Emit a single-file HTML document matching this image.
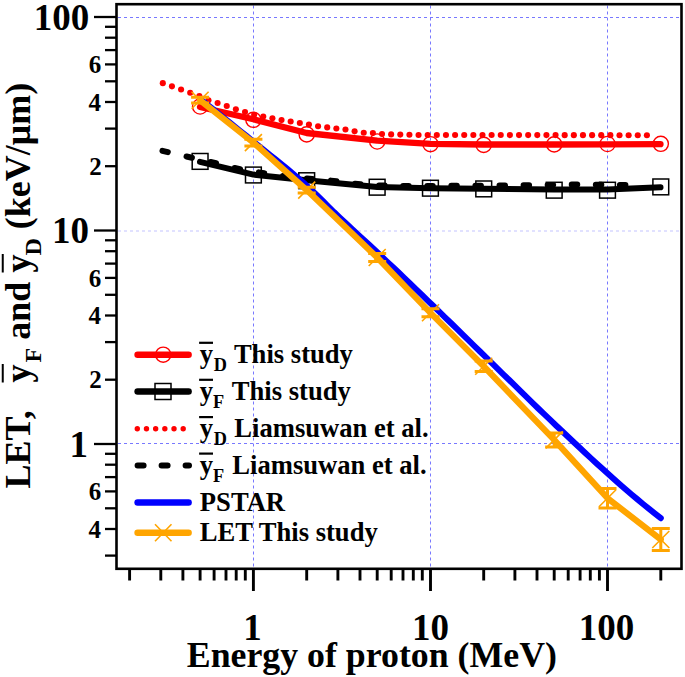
<!DOCTYPE html>
<html><head><meta charset="utf-8"><style>
html,body{margin:0;padding:0;background:#fff;}
svg{display:block;}
text{font-family:"Liberation Serif",serif;font-weight:bold;fill:#000;}
</style></head><body>
<svg width="685" height="677" viewBox="0 0 685 677">
<rect width="685" height="677" fill="#fff"/>
<line x1="253.5" y1="5.5" x2="253.5" y2="567" stroke="#7878ff" stroke-width="1" stroke-dasharray="3 3"/>
<line x1="430.5" y1="5.5" x2="430.5" y2="567" stroke="#7878ff" stroke-width="1" stroke-dasharray="3 3"/>
<line x1="607.5" y1="5.5" x2="607.5" y2="567" stroke="#7878ff" stroke-width="1" stroke-dasharray="3 3"/>
<line x1="118" y1="17.5" x2="680" y2="17.5" stroke="#7878ff" stroke-opacity="1" stroke-width="1" stroke-dasharray="3 3"/>
<line x1="118" y1="231" x2="680" y2="231" stroke="#7878ff" stroke-opacity="0.45" stroke-width="1" stroke-dasharray="3 3"/>
<line x1="118" y1="443.5" x2="680" y2="443.5" stroke="#7878ff" stroke-opacity="1" stroke-width="1" stroke-dasharray="3 3"/>
<circle cx="162.80" cy="83.17" r="3.05" fill="#f00"/>
<circle cx="171.93" cy="86.34" r="3.05" fill="#f00"/>
<circle cx="181.07" cy="89.52" r="3.05" fill="#f00"/>
<circle cx="190.20" cy="92.82" r="3.05" fill="#f00"/>
<circle cx="199.34" cy="96.15" r="3.05" fill="#f00"/>
<circle cx="208.47" cy="100.32" r="3.05" fill="#f00"/>
<circle cx="217.60" cy="103.07" r="3.05" fill="#f00"/>
<circle cx="226.74" cy="105.98" r="3.05" fill="#f00"/>
<circle cx="235.87" cy="109.30" r="3.05" fill="#f00"/>
<circle cx="245.01" cy="111.96" r="3.05" fill="#f00"/>
<circle cx="254.14" cy="114.73" r="3.05" fill="#f00"/>
<circle cx="263.27" cy="116.53" r="3.05" fill="#f00"/>
<circle cx="272.41" cy="118.34" r="3.05" fill="#f00"/>
<circle cx="281.54" cy="120.09" r="3.05" fill="#f00"/>
<circle cx="290.68" cy="121.53" r="3.05" fill="#f00"/>
<circle cx="299.81" cy="122.99" r="3.05" fill="#f00"/>
<circle cx="308.94" cy="124.49" r="3.05" fill="#f00"/>
<circle cx="318.08" cy="126.30" r="3.05" fill="#f00"/>
<circle cx="327.21" cy="127.40" r="3.05" fill="#f00"/>
<circle cx="336.35" cy="128.49" r="3.05" fill="#f00"/>
<circle cx="345.48" cy="129.57" r="3.05" fill="#f00"/>
<circle cx="354.61" cy="131.34" r="3.05" fill="#f00"/>
<circle cx="363.75" cy="132.71" r="3.05" fill="#f00"/>
<circle cx="372.88" cy="133.11" r="3.05" fill="#f00"/>
<circle cx="382.02" cy="134.00" r="3.05" fill="#f00"/>
<circle cx="391.15" cy="134.40" r="3.05" fill="#f00"/>
<circle cx="400.28" cy="134.62" r="3.05" fill="#f00"/>
<circle cx="409.42" cy="134.79" r="3.05" fill="#f00"/>
<circle cx="418.55" cy="134.97" r="3.05" fill="#f00"/>
<circle cx="427.68" cy="135.01" r="3.05" fill="#f00"/>
<circle cx="436.82" cy="135.01" r="3.05" fill="#f00"/>
<circle cx="445.95" cy="135.02" r="3.05" fill="#f00"/>
<circle cx="455.09" cy="135.03" r="3.05" fill="#f00"/>
<circle cx="464.22" cy="135.04" r="3.05" fill="#f00"/>
<circle cx="473.35" cy="135.05" r="3.05" fill="#f00"/>
<circle cx="482.49" cy="135.06" r="3.05" fill="#f00"/>
<circle cx="491.62" cy="135.06" r="3.05" fill="#f00"/>
<circle cx="500.76" cy="135.07" r="3.05" fill="#f00"/>
<circle cx="509.89" cy="135.08" r="3.05" fill="#f00"/>
<circle cx="519.02" cy="135.09" r="3.05" fill="#f00"/>
<circle cx="528.16" cy="135.10" r="3.05" fill="#f00"/>
<circle cx="537.29" cy="135.10" r="3.05" fill="#f00"/>
<circle cx="546.43" cy="135.11" r="3.05" fill="#f00"/>
<circle cx="555.56" cy="135.12" r="3.05" fill="#f00"/>
<circle cx="564.69" cy="135.13" r="3.05" fill="#f00"/>
<circle cx="573.83" cy="135.14" r="3.05" fill="#f00"/>
<circle cx="582.96" cy="135.14" r="3.05" fill="#f00"/>
<circle cx="592.10" cy="135.15" r="3.05" fill="#f00"/>
<circle cx="601.23" cy="135.16" r="3.05" fill="#f00"/>
<circle cx="610.36" cy="135.17" r="3.05" fill="#f00"/>
<circle cx="619.50" cy="135.18" r="3.05" fill="#f00"/>
<circle cx="628.63" cy="135.18" r="3.05" fill="#f00"/>
<circle cx="637.77" cy="135.19" r="3.05" fill="#f00"/>
<circle cx="646.90" cy="135.20" r="3.05" fill="#f00"/>
<line x1="162.47" y1="150.82" x2="167.81" y2="152.10" stroke="#000" stroke-width="6" stroke-linecap="round"/>
<line x1="186.54" y1="156.51" x2="191.90" y2="157.75" stroke="#000" stroke-width="6" stroke-linecap="round"/>
<line x1="210.62" y1="161.97" x2="215.98" y2="163.23" stroke="#000" stroke-width="6" stroke-linecap="round"/>
<line x1="234.69" y1="167.93" x2="240.07" y2="169.07" stroke="#000" stroke-width="6" stroke-linecap="round"/>
<line x1="258.75" y1="172.35" x2="264.17" y2="173.23" stroke="#000" stroke-width="6" stroke-linecap="round"/>
<line x1="282.81" y1="175.95" x2="288.27" y2="176.63" stroke="#000" stroke-width="6" stroke-linecap="round"/>
<line x1="306.88" y1="178.54" x2="312.36" y2="179.06" stroke="#000" stroke-width="6" stroke-linecap="round"/>
<line x1="330.97" y1="180.61" x2="336.43" y2="181.19" stroke="#000" stroke-width="6" stroke-linecap="round"/>
<line x1="355.04" y1="183.74" x2="360.52" y2="184.26" stroke="#000" stroke-width="6" stroke-linecap="round"/>
<line x1="379.11" y1="185.38" x2="384.61" y2="185.61" stroke="#000" stroke-width="6" stroke-linecap="round"/>
<line x1="403.19" y1="185.97" x2="408.69" y2="186.03" stroke="#000" stroke-width="6" stroke-linecap="round"/>
<line x1="427.27" y1="186.01" x2="432.77" y2="185.99" stroke="#000" stroke-width="6" stroke-linecap="round"/>
<line x1="451.35" y1="185.87" x2="456.85" y2="185.84" stroke="#000" stroke-width="6" stroke-linecap="round"/>
<line x1="475.43" y1="185.73" x2="480.93" y2="185.69" stroke="#000" stroke-width="6" stroke-linecap="round"/>
<line x1="499.51" y1="185.50" x2="505.01" y2="185.45" stroke="#000" stroke-width="6" stroke-linecap="round"/>
<line x1="523.59" y1="185.26" x2="529.09" y2="185.21" stroke="#000" stroke-width="6" stroke-linecap="round"/>
<line x1="547.67" y1="184.95" x2="553.17" y2="184.88" stroke="#000" stroke-width="6" stroke-linecap="round"/>
<line x1="571.75" y1="184.62" x2="577.25" y2="184.54" stroke="#000" stroke-width="6" stroke-linecap="round"/>
<line x1="595.83" y1="184.68" x2="601.33" y2="184.74" stroke="#000" stroke-width="6" stroke-linecap="round"/>
<line x1="619.91" y1="184.97" x2="625.41" y2="185.01" stroke="#000" stroke-width="6" stroke-linecap="round"/>
<polyline points="200.0,107.0 253.4,119.3 306.6,133.0 377.2,140.6 430.5,143.9 483.8,144.5 554.2,144.5 607.5,144.4 660.5,144.2" fill="none" stroke="#ff0000" stroke-width="6.3" stroke-linecap="round" stroke-linejoin="round"/>
<polyline points="200.0,161.8 253.4,174.6 306.6,180.2 377.2,187.0 430.5,188.3 483.8,188.7 554.2,189.4 607.5,189.5 660.5,187.3" fill="none" stroke="#000" stroke-width="6" stroke-linecap="round" stroke-linejoin="round"/>
<circle cx="200.1" cy="106.5" r="7.6" fill="none" stroke="#ff0000" stroke-width="1.4"/>
<circle cx="253.4" cy="119.8" r="7.6" fill="none" stroke="#ff0000" stroke-width="1.4"/>
<circle cx="306.7" cy="134.4" r="7.6" fill="none" stroke="#ff0000" stroke-width="1.4"/>
<circle cx="377.2" cy="141.5" r="7.6" fill="none" stroke="#ff0000" stroke-width="1.4"/>
<circle cx="430.5" cy="144.2" r="7.6" fill="none" stroke="#ff0000" stroke-width="1.4"/>
<circle cx="483.7" cy="144.9" r="7.6" fill="none" stroke="#ff0000" stroke-width="1.4"/>
<circle cx="554.2" cy="144.4" r="7.6" fill="none" stroke="#ff0000" stroke-width="1.4"/>
<circle cx="607.5" cy="144.0" r="7.6" fill="none" stroke="#ff0000" stroke-width="1.4"/>
<circle cx="660.8" cy="143.8" r="7.6" fill="none" stroke="#ff0000" stroke-width="1.4"/>
<rect x="192.20" y="153.50" width="15.8" height="15.8" fill="none" stroke="#000" stroke-width="1.5"/>
<rect x="245.50" y="167.10" width="15.8" height="15.8" fill="none" stroke="#000" stroke-width="1.5"/>
<rect x="298.80" y="172.80" width="15.8" height="15.8" fill="none" stroke="#000" stroke-width="1.5"/>
<rect x="369.25" y="179.30" width="15.8" height="15.8" fill="none" stroke="#000" stroke-width="1.5"/>
<rect x="422.55" y="180.30" width="15.8" height="15.8" fill="none" stroke="#000" stroke-width="1.5"/>
<rect x="475.85" y="181.00" width="15.8" height="15.8" fill="none" stroke="#000" stroke-width="1.5"/>
<rect x="546.30" y="182.30" width="15.8" height="15.8" fill="none" stroke="#000" stroke-width="1.5"/>
<rect x="599.60" y="182.30" width="15.8" height="15.8" fill="none" stroke="#000" stroke-width="1.5"/>
<rect x="652.90" y="179.00" width="15.8" height="15.8" fill="none" stroke="#000" stroke-width="1.5"/>
<polyline points="200.1,99.0 205.9,103.6 211.8,108.2 217.6,112.8 223.4,117.5 229.3,122.2 235.1,126.8 240.9,131.5 246.8,136.2 252.6,141.0 258.4,145.7 264.3,150.3 270.1,155.0 275.9,159.7 281.7,164.4 287.6,169.2 293.4,174.0 299.2,179.0 305.1,184.1 310.9,189.4 316.7,195.0 322.6,200.7 328.4,206.5 334.2,212.3 340.1,217.9 345.9,223.3 351.7,228.7 357.6,234.1 363.4,239.4 369.2,244.8 375.1,250.3 380.9,255.7 386.7,261.3 392.5,266.8 398.4,272.3 404.2,277.9 410.0,283.5 415.9,289.1 421.7,294.7 427.5,300.4 433.4,306.0 439.2,311.6 445.0,317.3 450.9,323.0 456.7,328.7 462.5,334.4 468.4,340.1 474.2,345.8 480.0,351.5 485.8,357.2 491.7,362.9 497.5,368.6 503.3,374.3 509.2,380.0 515.0,385.7 520.8,391.4 526.7,397.1 532.5,402.8 538.3,408.5 544.2,414.1 550.0,419.7 555.8,425.2 561.7,430.8 567.5,436.3 573.3,441.8 579.2,447.3 585.0,452.7 590.8,458.1 596.6,463.5 602.5,468.8 608.3,474.0 614.1,479.2 620.0,484.4 625.8,489.4 631.6,494.4 637.5,499.4 643.3,504.2 649.1,508.9 655.0,513.6 660.8,518.2" fill="none" stroke="#0000ff" stroke-width="6" stroke-linecap="round" stroke-linejoin="round"/>
<polyline points="200.1,100.2 253.4,142.6 306.7,190.1 377.2,257.5 430.5,312.8 483.7,366.3 554.2,439.9 607.5,498.2 660.8,539.5" fill="none" stroke="#ffa500" stroke-width="6.2" stroke-linecap="round" stroke-linejoin="round"/>
<path d="M191.6,91.7L208.6,108.7M191.6,108.7L208.6,91.7" stroke="#ffa500" stroke-width="1.6" fill="none"/>
<path d="M200.1,97.3V103.1M191.1,97.3H209.1M191.1,103.1H209.1" stroke="#ffa500" stroke-width="3" fill="none"/>
<path d="M244.9,134.1L261.9,151.1M244.9,151.1L261.9,134.1" stroke="#ffa500" stroke-width="1.6" fill="none"/>
<path d="M253.4,139.3V146.0M244.4,139.3H262.4M244.4,146.0H262.4" stroke="#ffa500" stroke-width="3" fill="none"/>
<path d="M298.2,181.6L315.2,198.6M298.2,198.6L315.2,181.6" stroke="#ffa500" stroke-width="1.6" fill="none"/>
<path d="M306.7,187.3V192.9M297.7,187.3H315.7M297.7,192.9H315.7" stroke="#ffa500" stroke-width="3" fill="none"/>
<path d="M368.7,249.0L385.7,266.0M368.7,266.0L385.7,249.0" stroke="#ffa500" stroke-width="1.6" fill="none"/>
<path d="M377.2,253.5V261.5M368.2,253.5H386.2M368.2,261.5H386.2" stroke="#ffa500" stroke-width="3" fill="none"/>
<path d="M422.0,304.3L439.0,321.3M422.0,321.3L439.0,304.3" stroke="#ffa500" stroke-width="1.6" fill="none"/>
<path d="M430.5,308.8V316.8M421.5,308.8H439.5M421.5,316.8H439.5" stroke="#ffa500" stroke-width="3" fill="none"/>
<path d="M475.2,357.8L492.2,374.8M475.2,374.8L492.2,357.8" stroke="#ffa500" stroke-width="1.6" fill="none"/>
<path d="M483.7,361.0V371.6M474.7,361.0H492.7M474.7,371.6H492.7" stroke="#ffa500" stroke-width="3" fill="none"/>
<path d="M545.7,431.4L562.7,448.4M545.7,448.4L562.7,431.4" stroke="#ffa500" stroke-width="1.6" fill="none"/>
<path d="M554.2,432.9V446.9M545.2,432.9H563.2M545.2,446.9H563.2" stroke="#ffa500" stroke-width="3" fill="none"/>
<path d="M599.0,489.7L616.0,506.7M599.0,506.7L616.0,489.7" stroke="#ffa500" stroke-width="1.6" fill="none"/>
<path d="M607.5,488.5V507.9M598.5,488.5H616.5M598.5,507.9H616.5" stroke="#ffa500" stroke-width="3" fill="none"/>
<path d="M652.3,531.0L669.3,548.0M652.3,548.0L669.3,531.0" stroke="#ffa500" stroke-width="1.6" fill="none"/>
<path d="M660.8,528.5V550.5M651.8,528.5H669.8M651.8,550.5H669.8" stroke="#ffa500" stroke-width="3" fill="none"/>
<rect x="116.5" y="4.2" width="565" height="564.6" fill="none" stroke="#000" stroke-width="2.6"/>
<line x1="105" y1="555.6" x2="117" y2="555.6" stroke="#000" stroke-width="2.3"/>
<line x1="105" y1="529.0" x2="117" y2="529.0" stroke="#000" stroke-width="2.3"/>
<line x1="105" y1="508.3" x2="117" y2="508.3" stroke="#000" stroke-width="2.3"/>
<line x1="105" y1="491.4" x2="117" y2="491.4" stroke="#000" stroke-width="2.3"/>
<line x1="105" y1="477.1" x2="117" y2="477.1" stroke="#000" stroke-width="2.3"/>
<line x1="105" y1="464.7" x2="117" y2="464.7" stroke="#000" stroke-width="2.3"/>
<line x1="105" y1="453.8" x2="117" y2="453.8" stroke="#000" stroke-width="2.3"/>
<line x1="94" y1="444.0" x2="117" y2="444.0" stroke="#000" stroke-width="2.3"/>
<line x1="105" y1="379.7" x2="117" y2="379.7" stroke="#000" stroke-width="2.3"/>
<line x1="105" y1="342.1" x2="117" y2="342.1" stroke="#000" stroke-width="2.3"/>
<line x1="105" y1="315.5" x2="117" y2="315.5" stroke="#000" stroke-width="2.3"/>
<line x1="105" y1="294.8" x2="117" y2="294.8" stroke="#000" stroke-width="2.3"/>
<line x1="105" y1="277.9" x2="117" y2="277.9" stroke="#000" stroke-width="2.3"/>
<line x1="105" y1="263.6" x2="117" y2="263.6" stroke="#000" stroke-width="2.3"/>
<line x1="105" y1="251.2" x2="117" y2="251.2" stroke="#000" stroke-width="2.3"/>
<line x1="105" y1="240.3" x2="117" y2="240.3" stroke="#000" stroke-width="2.3"/>
<line x1="94" y1="230.5" x2="117" y2="230.5" stroke="#000" stroke-width="2.3"/>
<line x1="105" y1="166.2" x2="117" y2="166.2" stroke="#000" stroke-width="2.3"/>
<line x1="105" y1="128.6" x2="117" y2="128.6" stroke="#000" stroke-width="2.3"/>
<line x1="105" y1="102.0" x2="117" y2="102.0" stroke="#000" stroke-width="2.3"/>
<line x1="105" y1="81.3" x2="117" y2="81.3" stroke="#000" stroke-width="2.3"/>
<line x1="105" y1="64.4" x2="117" y2="64.4" stroke="#000" stroke-width="2.3"/>
<line x1="105" y1="50.1" x2="117" y2="50.1" stroke="#000" stroke-width="2.3"/>
<line x1="105" y1="37.7" x2="117" y2="37.7" stroke="#000" stroke-width="2.3"/>
<line x1="105" y1="26.8" x2="117" y2="26.8" stroke="#000" stroke-width="2.3"/>
<line x1="94" y1="17.0" x2="117" y2="17.0" stroke="#000" stroke-width="2.3"/>
<line x1="129.6" y1="568" x2="129.6" y2="580.5" stroke="#000" stroke-width="2.9"/>
<line x1="160.8" y1="568" x2="160.8" y2="580.5" stroke="#000" stroke-width="2.9"/>
<line x1="182.9" y1="568" x2="182.9" y2="580.5" stroke="#000" stroke-width="2.9"/>
<line x1="200.1" y1="568" x2="200.1" y2="580.5" stroke="#000" stroke-width="2.9"/>
<line x1="214.1" y1="568" x2="214.1" y2="580.5" stroke="#000" stroke-width="2.9"/>
<line x1="226.0" y1="568" x2="226.0" y2="580.5" stroke="#000" stroke-width="2.9"/>
<line x1="236.2" y1="568" x2="236.2" y2="580.5" stroke="#000" stroke-width="2.9"/>
<line x1="245.3" y1="568" x2="245.3" y2="580.5" stroke="#000" stroke-width="2.9"/>
<line x1="253.4" y1="568" x2="253.4" y2="591" stroke="#000" stroke-width="2.9"/>
<line x1="306.7" y1="568" x2="306.7" y2="580.5" stroke="#000" stroke-width="2.9"/>
<line x1="337.9" y1="568" x2="337.9" y2="580.5" stroke="#000" stroke-width="2.9"/>
<line x1="360.0" y1="568" x2="360.0" y2="580.5" stroke="#000" stroke-width="2.9"/>
<line x1="377.2" y1="568" x2="377.2" y2="580.5" stroke="#000" stroke-width="2.9"/>
<line x1="391.2" y1="568" x2="391.2" y2="580.5" stroke="#000" stroke-width="2.9"/>
<line x1="403.0" y1="568" x2="403.0" y2="580.5" stroke="#000" stroke-width="2.9"/>
<line x1="413.3" y1="568" x2="413.3" y2="580.5" stroke="#000" stroke-width="2.9"/>
<line x1="422.3" y1="568" x2="422.3" y2="580.5" stroke="#000" stroke-width="2.9"/>
<line x1="430.5" y1="568" x2="430.5" y2="591" stroke="#000" stroke-width="2.9"/>
<line x1="483.7" y1="568" x2="483.7" y2="580.5" stroke="#000" stroke-width="2.9"/>
<line x1="514.9" y1="568" x2="514.9" y2="580.5" stroke="#000" stroke-width="2.9"/>
<line x1="537.0" y1="568" x2="537.0" y2="580.5" stroke="#000" stroke-width="2.9"/>
<line x1="554.2" y1="568" x2="554.2" y2="580.5" stroke="#000" stroke-width="2.9"/>
<line x1="568.2" y1="568" x2="568.2" y2="580.5" stroke="#000" stroke-width="2.9"/>
<line x1="580.1" y1="568" x2="580.1" y2="580.5" stroke="#000" stroke-width="2.9"/>
<line x1="590.3" y1="568" x2="590.3" y2="580.5" stroke="#000" stroke-width="2.9"/>
<line x1="599.4" y1="568" x2="599.4" y2="580.5" stroke="#000" stroke-width="2.9"/>
<line x1="607.5" y1="568" x2="607.5" y2="591" stroke="#000" stroke-width="2.9"/>
<line x1="660.8" y1="568" x2="660.8" y2="580.5" stroke="#000" stroke-width="2.9"/>
<text x="33.81" y="29.80" font-size="37">100</text>
<text x="52.11" y="243.30" font-size="37">10</text>
<text x="69.42" y="456.90" font-size="37">1</text>
<text x="88.56" y="537.66" font-size="25">4</text>
<text x="88.83" y="500.06" font-size="25">6</text>
<text x="89.17" y="388.43" font-size="25">2</text>
<text x="88.56" y="324.16" font-size="25">4</text>
<text x="88.83" y="286.56" font-size="25">6</text>
<text x="89.17" y="174.93" font-size="25">2</text>
<text x="88.56" y="110.66" font-size="25">4</text>
<text x="88.83" y="73.06" font-size="25">6</text>
<text x="243.24" y="640.30" font-size="37" >1</text>
<text x="411.94" y="640.30" font-size="37" >10</text>
<text x="578.64" y="640.30" font-size="37" >100</text>
<text x="186.79" y="667.40" font-size="35.8" >Energy of proton (MeV)</text>
<g transform="translate(29.6,0) rotate(-90)"><text x="-488.62" y="0" font-size="36">LET,</text><text x="-382.45" y="0" font-size="36">y</text><text x="-362.61" y="11" font-size="24">F</text><text x="-339.86" y="0" font-size="36">and</text><text x="-272.55" y="0" font-size="36">y</text><text x="-255.62" y="11" font-size="24">D</text><text x="-229.18" y="0" font-size="36">(keV/μm)</text><path d="M-382.5,-26.85H-364M-272.6,-26.85H-254.1" stroke="#000" stroke-width="2"/></g>
<line x1="137.6" y1="354.7" x2="188.6" y2="354.7" stroke="#f00" stroke-width="6.5" stroke-linecap="round"/>
<circle cx="163.2" cy="354.7" r="7.6" fill="none" stroke="#f00" stroke-width="1.4"/>
<text x="199.74" y="362.80" font-size="26.6" >y</text>
<text x="213.68" y="371.00" font-size="18.3" >D</text>
<line x1="199.1" y1="342.8" x2="213" y2="342.8" stroke="#000" stroke-width="2.2"/>
<text x="233.88" y="362.80" font-size="26.6" >This study</text>
<line x1="137.6" y1="391.5" x2="188.6" y2="391.5" stroke="#000" stroke-width="6.5" stroke-linecap="round"/>
<rect x="155" y="383.5" width="16" height="16" fill="none" stroke="#000" stroke-width="1.5"/>
<text x="199.74" y="399.80" font-size="26.6" >y</text>
<text x="212.99" y="408.00" font-size="18.3" >F</text>
<line x1="199.1" y1="379.8" x2="213" y2="379.8" stroke="#000" stroke-width="2.2"/>
<text x="231.78" y="399.80" font-size="26.6" >This study</text>
<line x1="137.3" y1="428.7" x2="184" y2="428.7" stroke="#f00" stroke-width="5.4" stroke-linecap="round" stroke-dasharray="0 9.18"/>
<text x="199.74" y="437.10" font-size="26.6" >y</text>
<text x="213.68" y="445.30" font-size="18.3" >D</text>
<line x1="199.1" y1="417.1" x2="213" y2="417.1" stroke="#000" stroke-width="2.2"/>
<text x="234.35" y="437.10" font-size="26.6" >Liamsuwan et al.</text>
<line x1="137.6" y1="465.4" x2="189" y2="465.4" stroke="#000" stroke-width="6" stroke-linecap="round" stroke-dasharray="6 18"/>
<text x="199.74" y="473.60" font-size="26.6" >y</text>
<text x="212.99" y="481.80" font-size="18.3" >F</text>
<line x1="199.1" y1="453.6" x2="213" y2="453.6" stroke="#000" stroke-width="2.2"/>
<text x="232.35" y="473.60" font-size="26.6" >Liamsuwan et al.</text>
<line x1="137.6" y1="502.5" x2="188.6" y2="502.5" stroke="#00f" stroke-width="6.5" stroke-linecap="round"/>
<text x="199.85" y="511.10" font-size="26.6" >PSTAR</text>
<line x1="137.6" y1="532.8" x2="188.6" y2="532.8" stroke="#ffa500" stroke-width="6.5" stroke-linecap="round"/>
<path d="M155,524.3L171.5,541.3M155,541.3L171.5,524.3" stroke="#ffa500" stroke-width="1.6"/>
<text x="199.85" y="541.20" font-size="26.6" >LET This study</text>
</svg>
</body></html>
